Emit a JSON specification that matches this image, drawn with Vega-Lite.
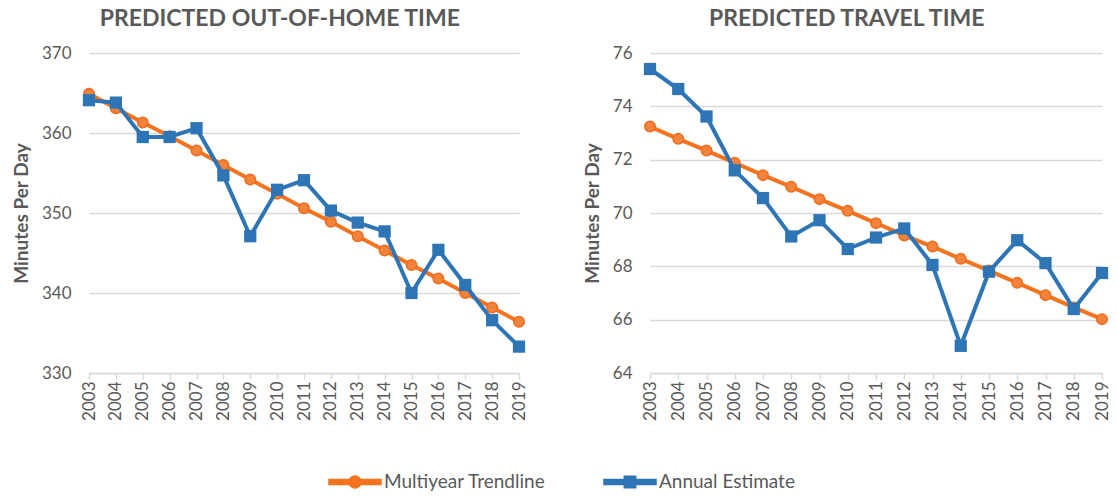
{
  "$schema": "https://vega.github.io/schema/vega-lite/v6.json",
  "padding": {"left": 12, "top": 8, "right": 10, "bottom": 5},
  "spacing": 55,
  "datasets": {
    "ooh": [
      {"year": "2003", "series": "Multiyear Trendline", "value": 364.9},
      {"year": "2004", "series": "Multiyear Trendline", "value": 363.1},
      {"year": "2005", "series": "Multiyear Trendline", "value": 361.3},
      {"year": "2006", "series": "Multiyear Trendline", "value": 359.6},
      {"year": "2007", "series": "Multiyear Trendline", "value": 357.8},
      {"year": "2008", "series": "Multiyear Trendline", "value": 356.0},
      {"year": "2009", "series": "Multiyear Trendline", "value": 354.2},
      {"year": "2010", "series": "Multiyear Trendline", "value": 352.4},
      {"year": "2011", "series": "Multiyear Trendline", "value": 350.6},
      {"year": "2012", "series": "Multiyear Trendline", "value": 348.9},
      {"year": "2013", "series": "Multiyear Trendline", "value": 347.1},
      {"year": "2014", "series": "Multiyear Trendline", "value": 345.3},
      {"year": "2015", "series": "Multiyear Trendline", "value": 343.5},
      {"year": "2016", "series": "Multiyear Trendline", "value": 341.8},
      {"year": "2017", "series": "Multiyear Trendline", "value": 340.0},
      {"year": "2018", "series": "Multiyear Trendline", "value": 338.2},
      {"year": "2019", "series": "Multiyear Trendline", "value": 336.4},
      {"year": "2003", "series": "Annual Estimate", "value": 364.1},
      {"year": "2004", "series": "Annual Estimate", "value": 363.8},
      {"year": "2005", "series": "Annual Estimate", "value": 359.5},
      {"year": "2006", "series": "Annual Estimate", "value": 359.5},
      {"year": "2007", "series": "Annual Estimate", "value": 360.6},
      {"year": "2008", "series": "Annual Estimate", "value": 354.7},
      {"year": "2009", "series": "Annual Estimate", "value": 347.1},
      {"year": "2010", "series": "Annual Estimate", "value": 352.9},
      {"year": "2011", "series": "Annual Estimate", "value": 354.1},
      {"year": "2012", "series": "Annual Estimate", "value": 350.3},
      {"year": "2013", "series": "Annual Estimate", "value": 348.8},
      {"year": "2014", "series": "Annual Estimate", "value": 347.7},
      {"year": "2015", "series": "Annual Estimate", "value": 340.0},
      {"year": "2016", "series": "Annual Estimate", "value": 345.4},
      {"year": "2017", "series": "Annual Estimate", "value": 341.0},
      {"year": "2018", "series": "Annual Estimate", "value": 336.6},
      {"year": "2019", "series": "Annual Estimate", "value": 333.3}
    ],
    "travel": [
      {"year": "2003", "series": "Multiyear Trendline", "value": 73.24},
      {"year": "2004", "series": "Multiyear Trendline", "value": 72.78},
      {"year": "2005", "series": "Multiyear Trendline", "value": 72.34},
      {"year": "2006", "series": "Multiyear Trendline", "value": 71.88},
      {"year": "2007", "series": "Multiyear Trendline", "value": 71.42},
      {"year": "2008", "series": "Multiyear Trendline", "value": 70.98},
      {"year": "2009", "series": "Multiyear Trendline", "value": 70.52},
      {"year": "2010", "series": "Multiyear Trendline", "value": 70.08},
      {"year": "2011", "series": "Multiyear Trendline", "value": 69.62},
      {"year": "2012", "series": "Multiyear Trendline", "value": 69.16},
      {"year": "2013", "series": "Multiyear Trendline", "value": 68.74},
      {"year": "2014", "series": "Multiyear Trendline", "value": 68.28},
      {"year": "2015", "series": "Multiyear Trendline", "value": 67.84},
      {"year": "2016", "series": "Multiyear Trendline", "value": 67.38},
      {"year": "2017", "series": "Multiyear Trendline", "value": 66.92},
      {"year": "2018", "series": "Multiyear Trendline", "value": 66.46},
      {"year": "2019", "series": "Multiyear Trendline", "value": 66.02},
      {"year": "2003", "series": "Annual Estimate", "value": 75.40},
      {"year": "2004", "series": "Annual Estimate", "value": 74.65},
      {"year": "2005", "series": "Annual Estimate", "value": 73.62},
      {"year": "2006", "series": "Annual Estimate", "value": 71.60},
      {"year": "2007", "series": "Annual Estimate", "value": 70.56},
      {"year": "2008", "series": "Annual Estimate", "value": 69.12},
      {"year": "2009", "series": "Annual Estimate", "value": 69.73},
      {"year": "2010", "series": "Annual Estimate", "value": 68.65},
      {"year": "2011", "series": "Annual Estimate", "value": 69.08},
      {"year": "2012", "series": "Annual Estimate", "value": 69.42},
      {"year": "2013", "series": "Annual Estimate", "value": 68.05},
      {"year": "2014", "series": "Annual Estimate", "value": 65.02},
      {"year": "2015", "series": "Annual Estimate", "value": 67.80},
      {"year": "2016", "series": "Annual Estimate", "value": 68.98},
      {"year": "2017", "series": "Annual Estimate", "value": 68.12},
      {"year": "2018", "series": "Annual Estimate", "value": 66.40},
      {"year": "2019", "series": "Annual Estimate", "value": 67.75}
    ]
  },
  "hconcat": [
    {
      "title": {"text": "PREDICTED OUT-OF-HOME TIME", "dx": 10},
      "width": 430,
      "height": 320,
      "data": {"name": "ooh"},
      "encoding": {
        "x": {"field": "year", "type": "ordinal", "scale": {"type": "point", "padding": 0},
              "axis": {"title": null, "labelAngle": 270, "labelFontSize": 17, "tickSize": 6, "grid": false, "domainWidth": 1.5, "tickWidth": 1.5}},
        "y": {"field": "value", "type": "quantitative", "scale": {"domain": [330, 370], "zero": false, "nice": false},
              "axis": {"title": "Minutes Per Day", "values": [330, 340, 350, 360, 370], "labelFontSize": 17, "labelPadding": 18, "ticks": false, "domain": false, "titleFontSize": 19, "titleFontWeight": "bold", "titlePadding": 10}}
      },
      "layer": [
        {"transform": [{"filter": "datum.series === 'Multiyear Trendline'"}],
         "mark": {"type": "line", "strokeWidth": 4},
         "encoding": {"color": {"field": "series", "type": "nominal",
            "scale": {"domain": ["Multiyear Trendline", "Annual Estimate"], "range": ["#F4731F", "#2E75B6"]},
            "legend": {"title": null, "orient": "bottom", "direction": "horizontal", "symbolSize": 2704, "labelFontSize": 19, "labelLimit": 400, "labelColor": "#595959", "columnPadding": 55, "labelOffset": 2, "offset": 34,
              "encode": {"symbols": {"update": {
                "shape": {"signal": "datum.value === 'Multiyear Trendline' ? 'M-1,-0.1H-0.2V0.1H-1Z M0.2,-0.1H1V0.1H0.2Z M0.23,0A0.23,0.23 0 1,1 -0.23,0A0.23,0.23 0 1,1 0.23,0Z' : 'M-1,-0.1H1V0.1H-1Z M-0.22,-0.22H0.22V0.22H-0.22Z'"},
                "fill": {"scale": "color", "field": "value"},
                "stroke": {"value": "transparent"},
                "opacity": {"value": 1}}}}}}}},
        {"transform": [{"filter": "datum.series === 'Multiyear Trendline'"}],
         "mark": {"type": "point", "shape": "circle", "filled": true, "size": 110, "fill": "#F0843C", "stroke": "#F26A1B", "strokeWidth": 1.5, "opacity": 1}},
        {"transform": [{"filter": "datum.series === 'Annual Estimate'"}],
         "mark": {"type": "line", "strokeWidth": 4},
         "encoding": {"color": {"field": "series", "type": "nominal",
            "scale": {"domain": ["Multiyear Trendline", "Annual Estimate"], "range": ["#F4731F", "#2E75B6"]},
            "legend": {"title": null, "orient": "bottom", "direction": "horizontal", "symbolSize": 2704, "labelFontSize": 19, "labelLimit": 400, "labelColor": "#595959", "columnPadding": 55, "labelOffset": 2, "offset": 34,
              "encode": {"symbols": {"update": {
                "shape": {"signal": "datum.value === 'Multiyear Trendline' ? 'M-1,-0.1H-0.2V0.1H-1Z M0.2,-0.1H1V0.1H0.2Z M0.23,0A0.23,0.23 0 1,1 -0.23,0A0.23,0.23 0 1,1 0.23,0Z' : 'M-1,-0.1H1V0.1H-1Z M-0.22,-0.22H0.22V0.22H-0.22Z'"},
                "fill": {"scale": "color", "field": "value"},
                "stroke": {"value": "transparent"},
                "opacity": {"value": 1}}}}}}}},
        {"transform": [{"filter": "datum.series === 'Annual Estimate'"}],
         "mark": {"type": "point", "shape": "square", "filled": true, "size": 150, "fill": "#2E75B6", "opacity": 1}}
      ]
    },
    {
      "title": "PREDICTED TRAVEL TIME",
      "width": 452,
      "height": 320,
      "data": {"name": "travel"},
      "encoding": {
        "x": {"field": "year", "type": "ordinal", "scale": {"type": "point", "padding": 0},
              "axis": {"title": null, "labelAngle": 270, "labelFontSize": 17, "tickSize": 6, "grid": false, "domainWidth": 1.5, "tickWidth": 1.5}},
        "y": {"field": "value", "type": "quantitative", "scale": {"domain": [64, 76], "zero": false, "nice": false},
              "axis": {"title": "Minutes Per Day", "values": [64, 66, 68, 70, 72, 74, 76], "labelFontSize": 17, "labelPadding": 18, "ticks": false, "domain": false, "titleFontSize": 19, "titleFontWeight": "bold", "titlePadding": 10}}
      },
      "layer": [
        {"transform": [{"filter": "datum.series === 'Multiyear Trendline'"}],
         "mark": {"type": "line", "strokeWidth": 4},
         "encoding": {"color": {"field": "series", "type": "nominal",
            "scale": {"domain": ["Multiyear Trendline", "Annual Estimate"], "range": ["#F4731F", "#2E75B6"]},
            "legend": {"title": null, "orient": "bottom", "direction": "horizontal", "symbolSize": 2704, "labelFontSize": 19, "labelLimit": 400, "labelColor": "#595959", "columnPadding": 55, "labelOffset": 2, "offset": 34,
              "encode": {"symbols": {"update": {
                "shape": {"signal": "datum.value === 'Multiyear Trendline' ? 'M-1,-0.1H-0.2V0.1H-1Z M0.2,-0.1H1V0.1H0.2Z M0.23,0A0.23,0.23 0 1,1 -0.23,0A0.23,0.23 0 1,1 0.23,0Z' : 'M-1,-0.1H1V0.1H-1Z M-0.22,-0.22H0.22V0.22H-0.22Z'"},
                "fill": {"scale": "color", "field": "value"},
                "stroke": {"value": "transparent"},
                "opacity": {"value": 1}}}}}}}},
        {"transform": [{"filter": "datum.series === 'Multiyear Trendline'"}],
         "mark": {"type": "point", "shape": "circle", "filled": true, "size": 110, "fill": "#F0843C", "stroke": "#F26A1B", "strokeWidth": 1.5, "opacity": 1}},
        {"transform": [{"filter": "datum.series === 'Annual Estimate'"}],
         "mark": {"type": "line", "strokeWidth": 4},
         "encoding": {"color": {"field": "series", "type": "nominal",
            "scale": {"domain": ["Multiyear Trendline", "Annual Estimate"], "range": ["#F4731F", "#2E75B6"]},
            "legend": {"title": null, "orient": "bottom", "direction": "horizontal", "symbolSize": 2704, "labelFontSize": 19, "labelLimit": 400, "labelColor": "#595959", "columnPadding": 55, "labelOffset": 2, "offset": 34,
              "encode": {"symbols": {"update": {
                "shape": {"signal": "datum.value === 'Multiyear Trendline' ? 'M-1,-0.1H-0.2V0.1H-1Z M0.2,-0.1H1V0.1H0.2Z M0.23,0A0.23,0.23 0 1,1 -0.23,0A0.23,0.23 0 1,1 0.23,0Z' : 'M-1,-0.1H1V0.1H-1Z M-0.22,-0.22H0.22V0.22H-0.22Z'"},
                "fill": {"scale": "color", "field": "value"},
                "stroke": {"value": "transparent"},
                "opacity": {"value": 1}}}}}}}},
        {"transform": [{"filter": "datum.series === 'Annual Estimate'"}],
         "mark": {"type": "point", "shape": "square", "filled": true, "size": 150, "fill": "#2E75B6", "opacity": 1}}
      ]
    }
  ],
  "config": {
    "font": "Lato",
    "view": {"stroke": null},
    "axis": {"labelColor": "#595959", "titleColor": "#595959", "gridColor": "#D9D9D9", "gridWidth": 1.5, "domainColor": "#D9D9D9", "tickColor": "#D9D9D9", "labelFont": "Lato", "titleFont": "Lato"},
    "title": {"font": "Lato", "fontSize": 23, "fontWeight": "bold", "color": "#595959", "anchor": "middle", "frame": "bounds", "offset": 13},
    "legend": {"labelFont": "Lato", "layout": {"bottom": {"anchor": "middle"}}}
  }
}
